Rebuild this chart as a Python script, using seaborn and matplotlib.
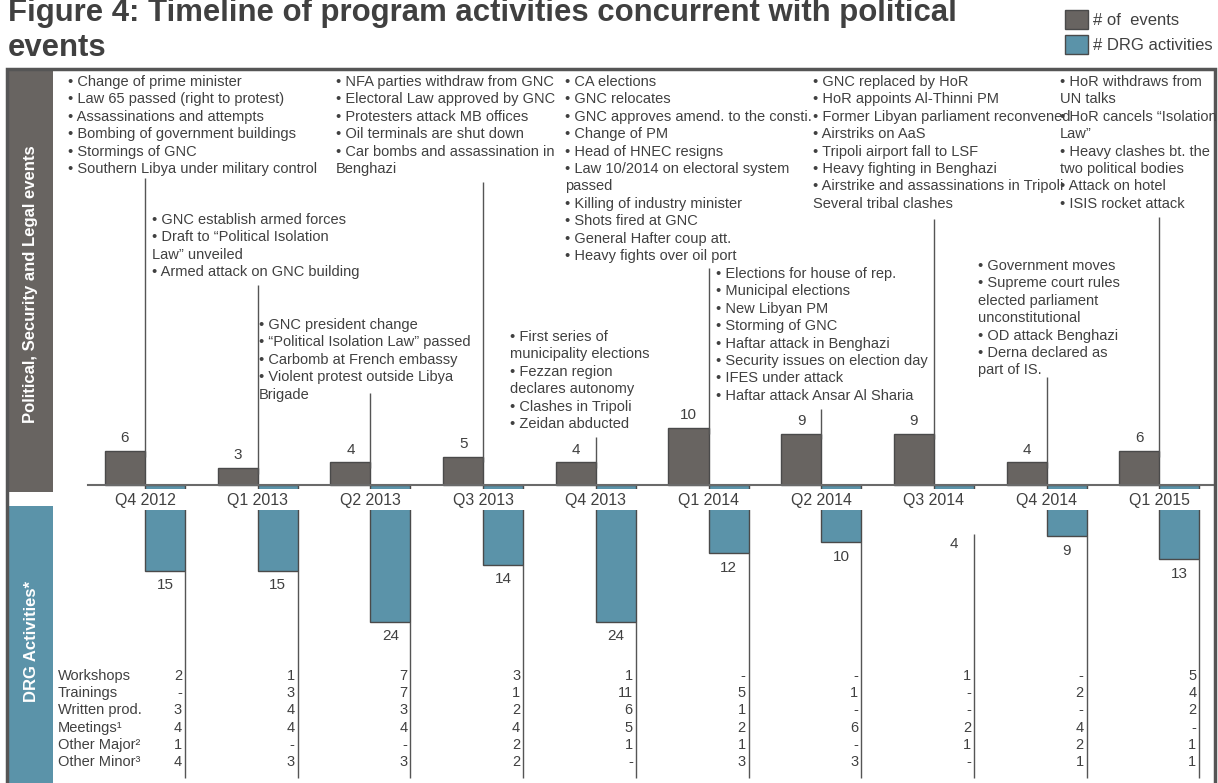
import matplotlib
matplotlib.use("Agg")
import matplotlib.pyplot as plt
from matplotlib.patches import Rectangle, Patch
import pandas as pd
import seaborn as sns

# ---- data -------------------------------------------------------------
quarters = ["Q4 2012", "Q1 2013", "Q2 2013", "Q3 2013", "Q4 2013",
            "Q1 2014", "Q2 2014", "Q3 2014", "Q4 2014", "Q1 2015"]
events = [6, 3, 4, 5, 4, 10, 9, 9, 4, 6]
drg_activities = [15, 15, 24, 14, 24, 12, 10, 4, 9, 13]

activity_types = ["Workshops", "Trainings", "Written prod.", "Meetings\u00b9",
                  "Other Major\u00b2", "Other Minor\u00b3"]
workshops = [2, 1, 7, 3, 1, None, None, 1, None, 5]
trainings = [None, 3, 7, 1, 11, 5, 1, None, 2, 4]
written_prod = [3, 4, 3, 2, 6, 1, None, None, None, 2]
meetings = [4, 4, 4, 4, 5, 2, 6, 2, 4, None]
other_major = [1, None, None, 2, 1, 1, None, 1, 2, 1]
other_minor = [4, 3, 3, 2, None, 3, 3, None, 1, 1]
activity_table = [workshops, trainings, written_prod, meetings, other_major, other_minor]

event_notes = [
    ["\u2022 Change of prime minister", "\u2022 Law 65 passed (right to protest)",
     "\u2022 Assassinations and attempts", "\u2022 Bombing of government buildings",
     "\u2022 Stormings of GNC", "\u2022 Southern Libya under military control"],
    ["\u2022 GNC establish armed forces", "\u2022 Draft to \u201cPolitical Isolation",
     "Law\u201d unveiled", "\u2022 Armed attack on GNC building"],
    ["\u2022 GNC president change", "\u2022 \u201cPolitical Isolation Law\u201d passed",
     "\u2022 Carbomb at French embassy", "\u2022 Violent protest outside Libya", "Brigade"],
    ["\u2022 NFA parties withdraw from GNC", "\u2022 Electoral Law approved by GNC",
     "\u2022 Protesters attack MB offices", "\u2022 Oil terminals are shut down",
     "\u2022 Car bombs and assassination in", "Benghazi"],
    ["\u2022 First series of", "municipality elections", "\u2022 Fezzan region",
     "declares autonomy", "\u2022 Clashes in Tripoli", "\u2022 Zeidan abducted"],
    ["\u2022 CA elections", "\u2022 GNC relocates", "\u2022 GNC approves amend. to the consti.",
     "\u2022 Change of PM", "\u2022 Head of HNEC resigns", "\u2022 Law 10/2014 on electoral system",
     "passed", "\u2022 Killing of industry minister", "\u2022 Shots fired at GNC",
     "\u2022 General Hafter coup att.", "\u2022 Heavy fights over oil port"],
    ["\u2022 Elections for house of rep.", "\u2022 Municipal elections", "\u2022 New Libyan PM",
     "\u2022 Storming of GNC", "\u2022 Haftar attack in Benghazi",
     "\u2022 Security issues on election day", "\u2022 IFES under attack",
     "\u2022 Haftar attack Ansar Al Sharia"],
    ["\u2022 GNC replaced by HoR", "\u2022 HoR appoints Al-Thinni PM",
     "\u2022 Former Libyan parliament reconvened", "\u2022 Airstriks on AaS",
     "\u2022 Tripoli airport fall to LSF", "\u2022 Heavy fighting in Benghazi",
     "\u2022 Airstrike and assassinations in Tripoli", "Several tribal clashes"],
    ["\u2022 Government moves", "\u2022 Supreme court rules", "elected parliament",
     "unconstitutional", "\u2022 OD attack Benghazi", "\u2022 Derna declared as", "part of IS."],
    ["\u2022 HoR withdraws from", "UN talks", "\u2022 HoR cancels \u201cIsolation", "Law\u201d",
     "\u2022 Heavy clashes bt. the", "two political bodies", "\u2022 Attack on hotel",
     "\u2022 ISIS rocket attack"],
]

# ---- layout (pixels of the 1218x783 picture) --------------------------
W, H = 1218, 783
note_pos = [(68, 82), (152, 220), (259, 325), (336, 82), (510, 337),
            (565, 82), (716, 274), (813, 82), (978, 266), (1060, 82)]
connector_top = [178, 285, 393, 182, 437, 268, 409, 219, 377, 217]
line_step = 17.4
tick0, tick_step = 145, 112.7
base_px, unit_px = 485, 5.7
# Q3 2014: the short bar hides under the quarter labels, so its label and line sit lower
drg_label_pad = [-5.5, -5.5, -5.5, -5.5, -5.5, -5.5, -5.5, -21, -5.5, -5.5]
drg_line_start_px = {7: 534}

GRAY = "#686461"
BLUE = "#5b93a9"
EDGE = "#4a4a4a"
TXT = "#404040"
LINE = "#555555"

sns.set_theme(style="white")
plt.rcParams["font.family"] = ["Liberation Sans", "DejaVu Sans"]


def fx(x):
    return x / W


def fy(y):
    return 1 - y / H


def ydata(y):
    return (base_px - y) / unit_px


fig = plt.figure(figsize=(W / 100, H / 100), dpi=100)
ax = fig.add_axes([fx(88), fy(783), (1215 - 88) / W, (783 - 68) / H])
ax.patch.set_alpha(0)

df = pd.DataFrame({
    "quarter": quarters * 2,
    "series": ["events"] * len(quarters) + ["drg"] * len(quarters),
    "value": events + [-d for d in drg_activities],
})
sns.barplot(data=df, x="quarter", y="value", hue="series", order=quarters,
            hue_order=["events", "drg"], palette=[GRAY, BLUE], width=0.71,
            dodge=True, errorbar=None, saturation=1, edgecolor=EDGE,
            linewidth=1, legend=False, ax=ax)

ax.set_xlim((88 - tick0) / tick_step, (1215 - tick0) / tick_step)
ax.set_ylim(ydata(783), ydata(68))
ax.set_xlabel("")
ax.set_ylabel("")
ax.set_yticks([])
for side in ["top", "left", "right"]:
    ax.spines[side].set_visible(False)
ax.spines["bottom"].set_position(("data", 0))
ax.spines["bottom"].set_color("#6a6a6a")
ax.spines["bottom"].set_linewidth(1.5)
ax.spines["bottom"].set_zorder(4)
ax.tick_params(axis="x", length=0, pad=6, labelsize=11.4, labelcolor=TXT)
ax.set_axisbelow(False)
ax.xaxis.set_zorder(4)

# white strip where the quarter labels sit over the DRG bars
ax.axhspan(ydata(510), ydata(489), color="white", zorder=1.2, lw=0)

half = 0.71 / 4
for i, q in enumerate(quarters):
    ax.annotate(str(events[i]), xy=(i - half, events[i]), xytext=(0, 4),
                textcoords="offset points", ha="center", va="bottom",
                fontsize=11, color=TXT)
    ax.vlines(i, events[i] - 1, ydata(connector_top[i]), color=LINE, lw=1, zorder=3)

    ax.annotate(str(drg_activities[i]), xy=(i + half, -drg_activities[i]),
                xytext=(0, drg_label_pad[i]), textcoords="offset points",
                ha="center", va="top", fontsize=11, color=TXT)
    if i in drg_line_start_px:
        line_start = ydata(drg_line_start_px[i])
    else:
        line_start = -drg_activities[i]
    ax.vlines(i + 2 * half, line_start, ydata(778), color=LINE, lw=1, zorder=3)

    for r, row in enumerate(activity_table):
        val = "-" if row[i] is None else str(row[i])
        ax.text(i + 2 * half - 3 / tick_step, ydata(676 + r * 17.2), val,
                ha="right", va="center", fontsize=10.5, color=TXT)

for r, name in enumerate(activity_types):
    fig.text(fx(58), fy(676 + r * 17.2), name, ha="left", va="center",
             fontsize=10.5, color=TXT)

for lines, (x0, y0) in zip(event_notes, note_pos):
    for k, line in enumerate(lines):
        fig.text(fx(x0), fy(y0 + k * line_step), line, ha="left", va="center",
                 fontsize=10.5, color=TXT)

# side bands and frame
fig.add_artist(Rectangle((fx(7), fy(492)), (53 - 7) / W, (492 - 69) / H,
                         transform=fig.transFigure, color=GRAY, lw=0))
fig.add_artist(Rectangle((fx(7), fy(790)), (53 - 7) / W, (790 - 506) / H,
                         transform=fig.transFigure, color=BLUE, lw=0))
fig.add_artist(Rectangle((fx(7), fy(790)), (1215 - 7) / W, (790 - 69) / H,
                         transform=fig.transFigure, fill=False,
                         edgecolor="#555555", lw=2.5))
fig.text(fx(31), fy(284), "Political, Security and Legal events", rotation=90,
         ha="center", va="center", fontsize=12, fontweight="bold", color="white")
fig.text(fx(31), fy(642), "DRG Activities*", rotation=90,
         ha="center", va="center", fontsize=12, fontweight="bold", color="white")

# title and legend
fig.text(fx(8), fy(21), "Figure 4: Timeline of program activities concurrent with political",
         ha="left", va="baseline", fontsize=22.4, fontweight="bold", color=TXT)
fig.text(fx(8), fy(56), "events", ha="left", va="baseline", fontsize=22.4,
         fontweight="bold", color=TXT)
handles = [Patch(facecolor=GRAY, edgecolor=EDGE), Patch(facecolor=BLUE, edgecolor=EDGE)]
fig.legend(handles, ["# of  events", "# DRG activities"], loc="upper left",
           bbox_to_anchor=(fx(1058), fy(3)), frameon=False, fontsize=12,
           handlelength=1.4, handleheight=1.4, handletextpad=0.3,
           labelspacing=0.35, borderaxespad=0, labelcolor=TXT)

fig.savefig("out.png", dpi=100)
